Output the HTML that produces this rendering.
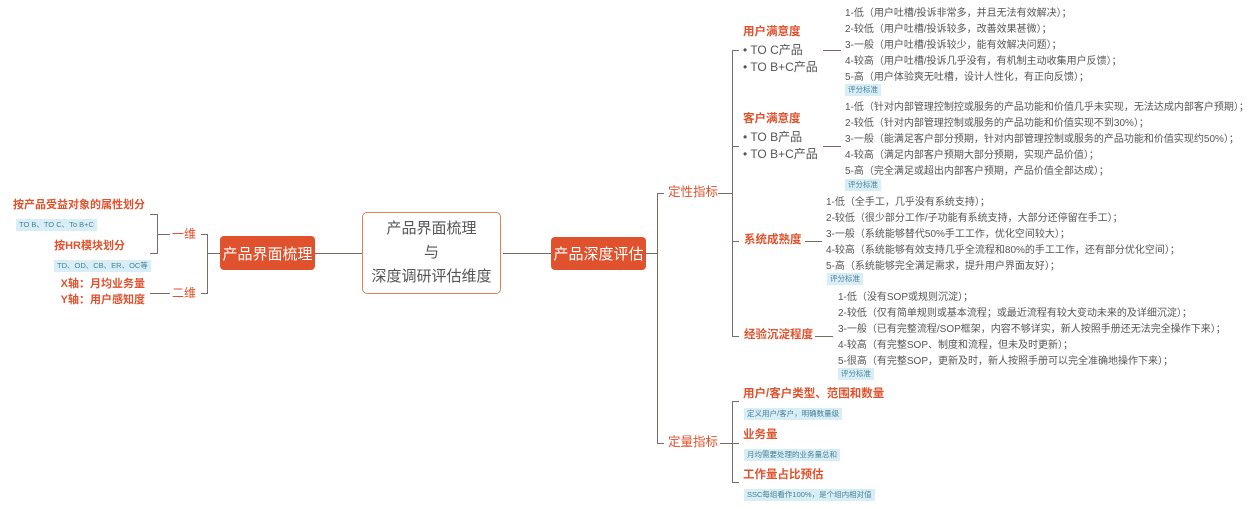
<!DOCTYPE html>
<html><head><meta charset="utf-8"><style>
body{margin:0;width:1256px;height:509px;background:#fff;position:relative;overflow:hidden;font-family:"Liberation Sans","Noto Sans CJK SC",sans-serif;}
.a{position:absolute;white-space:nowrap;line-height:1;}
.r{color:#e0522d;font-weight:bold;}
.t{font-size:10px;color:#555;}
.tag{position:absolute;background:#d8eef6;color:#4a7f95;font-size:7.5px;padding:2px 3px;line-height:1;white-space:nowrap;}
.l{position:absolute;background:#7a6a62;}
.box{position:absolute;background:#e0522d;color:#fff;border-radius:4px;font-size:15px;display:flex;align-items:center;justify-content:center;}
.b{font-size:12px;color:#555;}
.rt{position:absolute;right:1111px;white-space:nowrap;line-height:1;text-align:right;}
</style></head><body>
<!-- lines -->
<div class="l" style="left:157px;top:214px;width:1px;height:40px"></div>
<div class="l" style="left:150px;top:214px;width:7px;height:1px"></div>
<div class="l" style="left:150px;top:253px;width:7px;height:1px"></div>
<div class="l" style="left:157px;top:234px;width:13px;height:1px"></div>
<div class="l" style="left:150px;top:293px;width:20px;height:1px"></div>
<div class="l" style="left:207px;top:234px;width:1px;height:60px"></div>
<div class="l" style="left:201px;top:234px;width:6px;height:1px"></div>
<div class="l" style="left:201px;top:293px;width:6px;height:1px"></div>
<div class="l" style="left:207px;top:253px;width:13px;height:1px"></div>
<div class="l" style="left:315px;top:253px;width:47px;height:1px"></div>
<div class="l" style="left:503px;top:253px;width:48px;height:1px"></div>
<div class="l" style="left:646px;top:253px;width:11px;height:1px"></div>
<div class="l" style="left:657px;top:193px;width:1px;height:251px"></div>
<div class="l" style="left:657px;top:193px;width:7px;height:1px"></div>
<div class="l" style="left:657px;top:443px;width:7px;height:1px"></div>
<div class="l" style="left:718px;top:193px;width:14px;height:1px"></div>
<div class="l" style="left:732px;top:50px;width:1px;height:287px"></div>
<div class="l" style="left:732px;top:50px;width:7px;height:1px"></div>
<div class="l" style="left:732px;top:146px;width:7px;height:1px"></div>
<div class="l" style="left:732px;top:241px;width:7px;height:1px"></div>
<div class="l" style="left:732px;top:336px;width:7px;height:1px"></div>
<div class="l" style="left:823px;top:50px;width:18px;height:1px"></div>
<div class="l" style="left:823px;top:146px;width:18px;height:1px"></div>
<div class="l" style="left:805px;top:241px;width:17px;height:1px"></div>
<div class="l" style="left:815px;top:336px;width:18px;height:1px"></div>
<div class="l" style="left:720px;top:443px;width:12px;height:1px"></div>
<div class="l" style="left:732px;top:401px;width:1px;height:82px"></div>
<div class="l" style="left:732px;top:401px;width:7px;height:1px"></div>
<div class="l" style="left:732px;top:482px;width:7px;height:1px"></div>
<div class="l" style="left:732px;top:443px;width:7px;height:1px"></div>

<!-- left -->
<div class="rt r" style="top:200px;font-size:11px">按产品受益对象的属性划分</div>
<div class="tag" style="left:16px;top:219px">TO B、TO C、To B+C</div>
<div class="rt r" style="top:241px;right:1131px;font-size:11px">按HR模块划分</div>
<div class="tag" style="left:54px;top:260px">TD、OD、CB、ER、OC等</div>
<div class="rt r" style="top:279px;font-size:11px">X轴：月均业务量</div>
<div class="rt r" style="top:295px;font-size:11px">Y轴：用户感知度</div>
<div class="a" style="left:172px;top:228px;font-size:12px;color:#e0522d">一维</div>
<div class="a" style="left:172px;top:287px;font-size:12px;color:#e0522d">二维</div>
<div class="box" style="left:220px;top:236px;width:95px;height:34px">产品界面梳理</div>
<div style="position:absolute;left:362px;top:212px;width:139px;height:82px;border:1.5px solid #d9825e;border-radius:5px;color:#555;font-size:15px;text-align:center;line-height:24px;padding-top:4px;box-sizing:border-box">产品界面梳理<br>与<br>深度调研评估维度</div>
<div class="box" style="left:551px;top:237px;width:95px;height:33px">产品深度评估</div>
<div class="a" style="left:668px;top:186px;font-size:12.5px;color:#e0522d">定性指标</div>
<div class="a" style="left:668px;top:436px;font-size:12.5px;color:#e0522d">定量指标</div>

<!-- 用户满意度 -->
<div class="a r" style="left:743px;top:27px;font-size:11.5px">用户满意度</div>
<div class="a b" style="left:743px;top:44px">• TO C产品</div>
<div class="a b" style="left:743px;top:61px">• TO B+C产品</div>
<div class="a t" style="left:845px;top:9px">1-低（用户吐槽/投诉非常多，并且无法有效解决）；</div>
<div class="a t" style="left:845px;top:25px">2-较低（用户吐槽/投诉较多，改善效果甚微）；</div>
<div class="a t" style="left:845px;top:41px">3-一般（用户吐槽/投诉较少，能有效解决问题）；</div>
<div class="a t" style="left:845px;top:57px">4-较高（用户吐槽/投诉几乎没有，有机制主动收集用户反馈）；</div>
<div class="a t" style="left:845px;top:73px">5-高（用户体验爽无吐槽，设计人性化，有正向反馈）；</div>
<div class="tag" style="left:845px;top:84px">评分标准</div>

<!-- 客户满意度 -->
<div class="a r" style="left:743px;top:114px;font-size:11.5px">客户满意度</div>
<div class="a b" style="left:743px;top:131px">• TO B产品</div>
<div class="a b" style="left:743px;top:148px">• TO B+C产品</div>
<div class="a t" style="left:845px;top:103px">1-低（针对内部管理控制控或服务的产品功能和价值几乎未实现，无法达成内部客户预期）；</div>
<div class="a t" style="left:845px;top:119px">2-较低（针对内部管理控制或服务的产品功能和价值实现不到30%）；</div>
<div class="a t" style="left:845px;top:135px">3-一般（能满足客户部分预期，针对内部管理控制或服务的产品功能和价值实现约50%）；</div>
<div class="a t" style="left:845px;top:151px">4-较高（满足内部客户预期大部分预期，实现产品价值）；</div>
<div class="a t" style="left:845px;top:167px">5-高（完全满足或超出内部客户预期，产品价值全部达成）；</div>
<div class="tag" style="left:845px;top:179px">评分标准</div>

<!-- 系统成熟度 -->
<div class="a r" style="left:744px;top:235px;font-size:11.5px">系统成熟度</div>
<div class="a t" style="left:826px;top:198px">1-低（全手工，几乎没有系统支持）；</div>
<div class="a t" style="left:826px;top:214px">2-较低（很少部分工作/子功能有系统支持，大部分还停留在手工）；</div>
<div class="a t" style="left:826px;top:230px">3-一般（系统能够替代50%手工工作，优化空间较大）；</div>
<div class="a t" style="left:826px;top:246px">4-较高（系统能够有效支持几乎全流程和80%的手工工作，还有部分优化空间）；</div>
<div class="a t" style="left:826px;top:262px">5-高（系统能够完全满足需求，提升用户界面友好）；</div>
<div class="tag" style="left:827px;top:273px">评分标准</div>

<!-- 经验沉淀程度 -->
<div class="a r" style="left:744px;top:330px;font-size:11.5px">经验沉淀程度</div>
<div class="a t" style="left:838px;top:293px">1-低（没有SOP或规则沉淀）；</div>
<div class="a t" style="left:838px;top:309px">2-较低（仅有简单规则或基本流程；或最近流程有较大变动未来的及详细沉淀）；</div>
<div class="a t" style="left:838px;top:325px">3-一般（已有完整流程/SOP框架，内容不够详实，新人按照手册还无法完全操作下来）；</div>
<div class="a t" style="left:838px;top:341px">4-较高（有完整SOP、制度和流程，但未及时更新）；</div>
<div class="a t" style="left:838px;top:357px">5-很高（有完整SOP，更新及时，新人按照手册可以完全准确地操作下来）；</div>
<div class="tag" style="left:838px;top:368px">评分标准</div>

<!-- 定量 -->
<div class="a r" style="left:743px;top:389px;font-size:11.5px">用户/客户类型、范围和数量</div>
<div class="tag" style="left:744px;top:408px">定义用户/客户，明确数量级</div>
<div class="a r" style="left:743px;top:430px;font-size:11.5px">业务量</div>
<div class="tag" style="left:744px;top:449px">月均需要处理的业务量总和</div>
<div class="a r" style="left:743px;top:470px;font-size:11.5px">工作量占比预估</div>
<div class="tag" style="left:744px;top:489px">SSC每组看作100%，是个组内相对值</div>
</body></html>
